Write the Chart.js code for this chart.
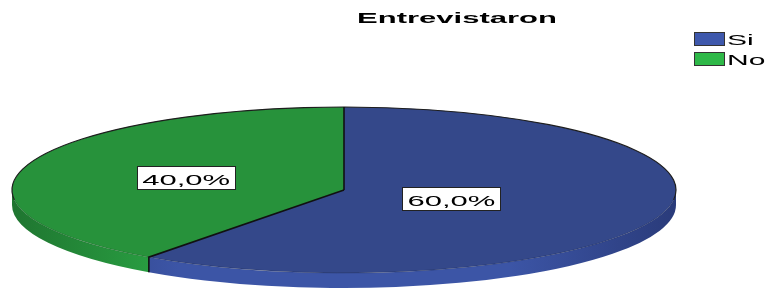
<!DOCTYPE html>
<html>
<head>
<meta charset="utf-8">
<script src="https://cdn.jsdelivr.net/npm/chart.js@4/dist/chart.umd.min.js"></script>
<style>
  html, body { margin: 0; padding: 0; background: #fff; }
  canvas { display: block; }
</style>
</head>
<body>
<canvas id="c" width="765" height="289"></canvas>
<script>
// ---- data ----
const categories = ['Si', 'No'];
const values = [60, 40];
const chartTitle = 'Entrevistaron';

// ---- styles ----
const topColors = ['#34488a', '#27923b'];
const legendColors = ['#3e58ac', '#2eb848'];
const sideLight = ['#3c55a6', '#2aa444'];
const sideDark = ['#2a3b7a', '#1f7530'];

const FONT = '"Liberation Sans", Arial, sans-serif';
const STRETCH = 2; // the reference text is horizontally stretched

function fmtPct(v, total) {
  return (v / total * 100).toFixed(1).replace('.', ',') + '%';
}

function stretchedText(ctx, text, x, y, align) {
  ctx.save();
  ctx.translate(x, y);
  ctx.scale(STRETCH, 1);
  ctx.textAlign = align;
  ctx.fillText(text, 0, 0);
  ctx.restore();
}

const pie3d = {
  id: 'pie3d',
  beforeDatasetsDraw(chart, args, opts) {
    const ctx = chart.ctx;
    const els = chart.getDatasetMeta(0).data;
    ctx.save();
    if (!els.length) return;
    const cx = els[0].x, cy = els[0].y, r = els[0].outerRadius;
    const RX = r * opts.aspect, RY = r, T = opts.depth;
    els.forEach((el, i) => {
      const s = el.startAngle, e = el.endAngle;
      for (let k = -1; k <= 1; k++) {
        const a = Math.max(s, 2 * Math.PI * k);
        const b = Math.min(e, 2 * Math.PI * k + Math.PI);
        if (b <= a) continue;
        const g = ctx.createLinearGradient(cx - RX, 0, cx + RX, 0);
        g.addColorStop(0, sideDark[i]);
        g.addColorStop(0.25, sideLight[i]);
        g.addColorStop(0.75, sideLight[i]);
        g.addColorStop(1, sideDark[i]);
        ctx.beginPath();
        ctx.ellipse(cx, cy, RX, RY, 0, a, b, false);
        ctx.lineTo(cx + RX * Math.cos(b), cy + T + RY * Math.sin(b));
        ctx.ellipse(cx, cy + T, RX, RY, 0, b, a, true);
        ctx.closePath();
        ctx.fillStyle = g;
        ctx.fill();
      }
    });
    ctx.translate(cx, cy);
    ctx.scale(opts.aspect, 1);
    ctx.translate(-cx, -cy);
  },
  afterDatasetsDraw(chart, args, opts) {
    const ctx = chart.ctx;
    ctx.restore();
    const els = chart.getDatasetMeta(0).data;
    if (!els.length) return;
    const cx = els[0].x, cy = els[0].y, r = els[0].outerRadius;
    const RX = r * opts.aspect, RY = r, T = opts.depth;

    // outline of the back edge
    ctx.save();
    ctx.strokeStyle = '#1e1e1e';
    ctx.lineWidth = 1.2;
    ctx.beginPath();
    ctx.ellipse(cx, cy, RX, RY, 0, Math.PI - 0.12, 2 * Math.PI + 0.12, false);
    ctx.stroke();
    ctx.strokeStyle = 'rgba(0,0,0,0.18)';
    ctx.lineWidth = 1;
    ctx.beginPath();
    ctx.ellipse(cx, cy, RX, RY, 0, 0.12, Math.PI - 0.12, false);
    ctx.stroke();

    // split lines
    ctx.strokeStyle = '#111';
    ctx.lineWidth = 1.6;
    els.forEach(el => {
      const ang = el.startAngle;
      const px = cx + RX * Math.cos(ang), py = cy + RY * Math.sin(ang);
      ctx.beginPath();
      ctx.moveTo(cx, cy);
      ctx.lineTo(px, py);
      if (Math.sin(ang) > 0.01) ctx.lineTo(px, py + T);
      ctx.stroke();
    });

    // value labels
    const data = chart.data.datasets[0].data;
    const total = data.reduce((a, b) => a + b, 0);
    ctx.font = '15.5px ' + FONT;
    els.forEach((el, i) => {
      const mid = (el.startAngle + el.endAngle) / 2;
      const f = opts.labelRadius[i];
      const x = cx + RX * f * Math.cos(mid);
      const y = cy + RY * f * Math.sin(mid);
      const txt = fmtPct(data[i], total);
      const w = ctx.measureText(txt).width * STRETCH + 10;
      const h = 23;
      ctx.fillStyle = '#fff';
      ctx.fillRect(Math.round(x - w / 2) + 0.5, Math.round(y - h / 2) + 0.5, Math.round(w), h);
      ctx.strokeStyle = '#222';
      ctx.lineWidth = 1;
      ctx.strokeRect(Math.round(x - w / 2) + 0.5, Math.round(y - h / 2) + 0.5, Math.round(w), h);
      ctx.fillStyle = '#000';
      ctx.textBaseline = 'alphabetic';
      stretchedText(ctx, txt, x, y + 7.5, 'center');
    });
    ctx.restore();
  },
  afterDraw(chart, args, opts) {
    const ctx = chart.ctx;
    ctx.save();
    // title
    ctx.fillStyle = '#000';
    ctx.textBaseline = 'alphabetic';
    ctx.font = 'bold 15.5px ' + FONT;
    stretchedText(ctx, chartTitle, 457, 23, 'center');
    // legend
    ctx.font = '15px ' + FONT;
    chart.data.labels.forEach((lab, i) => {
      const bx = 694.5, by = 32.5 + i * 20;
      ctx.fillStyle = legendColors[i];
      ctx.fillRect(bx, by, 30, 13);
      ctx.strokeStyle = '#333';
      ctx.lineWidth = 1;
      ctx.strokeRect(bx, by, 30, 13);
      ctx.fillStyle = '#000';
      stretchedText(ctx, lab, 727, 45 + i * 20, 'left');
    });
    ctx.restore();
  }
};

new Chart(document.getElementById('c'), {
  type: 'pie',
  data: {
    labels: categories,
    datasets: [{
      data: values,
      backgroundColor: topColors,
      borderWidth: 0,
      clip: false
    }]
  },
  options: {
    responsive: false,
    animation: false,
    events: [],
    devicePixelRatio: 1,
    layout: { padding: { top: 107, bottom: 16, left: 261, right: 338 } },
    plugins: {
      legend: { display: false },
      title: { display: false },
      tooltip: { enabled: false },
      pie3d: { aspect: 4, depth: 15, labelRadius: [0.34, 0.5] }
    }
  },
  plugins: [pie3d]
});
</script>
</body>
</html>
